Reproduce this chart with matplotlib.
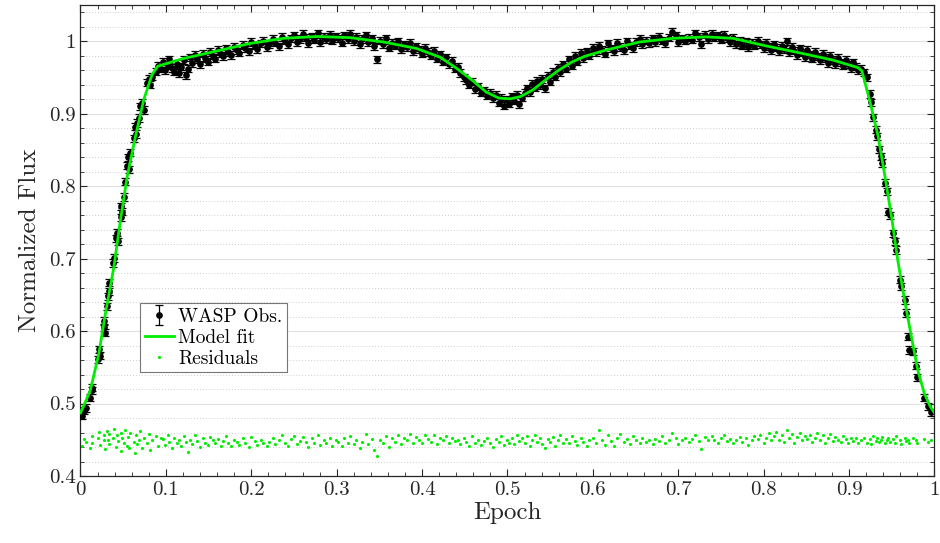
import numpy as np
import matplotlib
matplotlib.use('Agg')
from matplotlib import pyplot as plt
from matplotlib.ticker import MultipleLocator, FuncFormatter

# model fit
model_x = [0.000, 0.005, 0.0117, 0.0214, 0.0292, 0.039, 0.0468, 0.0546, 0.0643, 0.074,
           0.0838, 0.0905, 0.120, 0.160, 0.198, 0.2375, 0.2765, 0.3155, 0.3545, 0.3936,
           0.421, 0.440, 0.460, 0.475, 0.490, 0.503, 0.515, 0.530, 0.545, 0.560,
           0.575, 0.590, 0.616, 0.655, 0.694, 0.733, 0.764, 0.803, 0.842, 0.881,
           0.9105, 0.915, 0.924, 0.934, 0.942, 0.9497, 0.957, 0.965, 0.973, 0.9805,
           0.988, 0.995, 1.000]
model_y = [0.487, 0.500, 0.519, 0.568, 0.624, 0.6875, 0.753, 0.8125, 0.868, 0.919,
           0.954, 0.9655, 0.976, 0.9866, 0.9968, 1.004, 1.0065, 1.005, 0.999, 0.990,
           0.978, 0.963, 0.945, 0.930, 0.9215, 0.9205, 0.9235, 0.933, 0.947, 0.960,
           0.971, 0.979, 0.988, 0.999, 1.004, 1.006, 1.004, 0.9935, 0.984, 0.974,
           0.9636, 0.959, 0.919, 0.869, 0.8137, 0.758, 0.698, 0.643, 0.592, 0.546,
           0.5145, 0.496, 0.487]

# WASP observations, by part of the light curve
ingress_x = [0.002, 0.004, 0.006, 0.011, 0.013, 0.014, 0.020, 0.022, 0.023, 0.027,
             0.028, 0.029, 0.031, 0.032, 0.033, 0.034, 0.038, 0.039, 0.042, 0.043,
             0.044, 0.047, 0.048, 0.049, 0.051, 0.052, 0.055, 0.056, 0.057, 0.058,
             0.063, 0.064, 0.065, 0.066, 0.069, 0.070, 0.072, 0.074, 0.078, 0.080,
             0.082, 0.084, 0.089, 0.091, 0.094]
ingress_y = [0.483, 0.490, 0.494, 0.508, 0.518, 0.522, 0.561, 0.575, 0.566, 0.605,
             0.614, 0.598, 0.634, 0.648, 0.667, 0.655, 0.694, 0.701, 0.728, 0.736,
             0.724, 0.757, 0.772, 0.765, 0.785, 0.806, 0.828, 0.840, 0.823, 0.846,
             0.866, 0.882, 0.872, 0.887, 0.894, 0.910, 0.915, 0.905, 0.943, 0.948,
             0.940, 0.951, 0.958, 0.966, 0.962]
ingress_res = [0.442, 0.451, 0.447, 0.439, 0.455, 0.446, 0.452, 0.461, 0.443, 0.457,
               0.449, 0.437, 0.462, 0.450, 0.458, 0.444, 0.453, 0.465, 0.440, 0.456,
               0.448, 0.459, 0.435, 0.452, 0.446, 0.463, 0.441, 0.454, 0.438, 0.460,
               0.447, 0.432, 0.456, 0.444, 0.450, 0.462, 0.439, 0.453, 0.445, 0.458,
               0.436, 0.449, 0.455, 0.441, 0.452]

top1_x = [0.097, 0.099, 0.102, 0.104, 0.107, 0.110, 0.113, 0.115, 0.118, 0.121,
          0.123, 0.126, 0.128, 0.131, 0.134, 0.137, 0.140, 0.143, 0.146, 0.149,
          0.152, 0.155, 0.158, 0.161, 0.164, 0.167, 0.170, 0.173, 0.176, 0.180,
          0.183, 0.186, 0.190, 0.193, 0.197, 0.200, 0.204, 0.207, 0.211, 0.214,
          0.218, 0.221, 0.225, 0.228, 0.232, 0.236, 0.239, 0.243, 0.246, 0.250,
          0.253, 0.257, 0.260, 0.264, 0.267, 0.271, 0.274, 0.278, 0.281, 0.285,
          0.288, 0.292, 0.295, 0.299, 0.302, 0.306, 0.309, 0.313, 0.316, 0.320,
          0.323, 0.327, 0.330, 0.334, 0.337, 0.341, 0.344, 0.347, 0.351, 0.354,
          0.358, 0.361, 0.365, 0.368, 0.372, 0.375, 0.379, 0.382, 0.386, 0.389,
          0.393, 0.396, 0.400, 0.403, 0.407, 0.410, 0.414, 0.417, 0.421, 0.424,
          0.428, 0.431, 0.435, 0.438]
top1_y = [0.972, 0.960, 0.966, 0.975, 0.963, 0.958, 0.969, 0.956, 0.965, 0.974,
          0.953, 0.962, 0.978, 0.970, 0.981, 0.975, 0.968, 0.983, 0.977, 0.972,
          0.985, 0.980, 0.976, 0.988, 0.983, 0.979, 0.990, 0.985, 0.981, 0.992,
          0.988, 0.984, 0.995, 0.990, 0.986, 0.999, 0.994, 0.989, 0.997, 1.001,
          0.992, 0.996, 1.003, 0.998, 0.993, 1.006, 1.001, 0.996, 1.004, 1.008,
          0.999, 1.003, 1.010, 1.005, 0.997, 1.007, 1.002, 1.011, 0.999, 1.006,
          1.003, 1.009, 1.001, 1.007, 1.004, 0.998, 1.008, 1.003, 1.010, 1.000,
          1.006, 0.996, 1.003, 1.008, 0.999, 1.004, 0.993, 0.975, 1.001, 0.996,
          1.004, 0.991, 0.998, 0.994, 1.000, 0.989, 0.996, 0.992, 0.998, 0.986,
          0.993, 0.989, 0.983, 0.991, 0.985, 0.980, 0.987, 0.976, 0.982, 0.972,
          0.978, 0.968, 0.973, 0.962]
top1_res = [0.451, 0.443, 0.456, 0.447, 0.439, 0.453, 0.445, 0.449, 0.441, 0.455,
            0.447, 0.433, 0.450, 0.444, 0.457, 0.448, 0.440, 0.452, 0.446, 0.443,
            0.454, 0.449, 0.445, 0.451, 0.442, 0.448, 0.455, 0.446, 0.441, 0.450,
            0.447, 0.443, 0.452, 0.445, 0.440, 0.454, 0.448, 0.443, 0.450, 0.446,
            0.441, 0.447, 0.453, 0.444, 0.449, 0.456, 0.446, 0.442, 0.451, 0.455,
            0.444, 0.448, 0.454, 0.447, 0.440, 0.452, 0.446, 0.457, 0.443, 0.449,
            0.445, 0.453, 0.442, 0.450, 0.447, 0.441, 0.452, 0.446, 0.455, 0.444,
            0.450, 0.438, 0.447, 0.458, 0.444, 0.451, 0.436, 0.427, 0.449, 0.445,
            0.455, 0.440, 0.452, 0.447, 0.456, 0.444, 0.453, 0.449, 0.458, 0.446,
            0.454, 0.450, 0.445, 0.456, 0.451, 0.447, 0.457, 0.444, 0.453, 0.449,
            0.455, 0.446, 0.452, 0.448]

dip_x = [0.442, 0.445, 0.449, 0.452, 0.455, 0.459, 0.462, 0.466, 0.469, 0.473,
         0.476, 0.480, 0.483, 0.487, 0.490, 0.493, 0.496, 0.499, 0.502, 0.505,
         0.508, 0.511, 0.514, 0.517, 0.520, 0.523, 0.526, 0.529, 0.532, 0.535,
         0.538, 0.541, 0.544, 0.547, 0.550, 0.553, 0.556, 0.559, 0.562, 0.565,
         0.568, 0.572, 0.575, 0.579, 0.582, 0.586, 0.589, 0.593, 0.596]
dip_y = [0.965, 0.956, 0.950, 0.946, 0.940, 0.944, 0.934, 0.938, 0.929, 0.932,
         0.925, 0.929, 0.921, 0.926, 0.915, 0.922, 0.911, 0.919, 0.914, 0.924,
         0.918, 0.926, 0.913, 0.922, 0.929, 0.935, 0.930, 0.941, 0.936, 0.945,
         0.939, 0.948, 0.935, 0.952, 0.944, 0.958, 0.951, 0.963, 0.957, 0.968,
         0.962, 0.975, 0.966, 0.980, 0.972, 0.984, 0.977, 0.986, 0.980]
dip_res = [0.449, 0.444, 0.452, 0.447, 0.441, 0.455, 0.446, 0.450, 0.443, 0.448,
           0.453, 0.445, 0.440, 0.451, 0.447, 0.455, 0.443, 0.449, 0.446, 0.452,
           0.444, 0.457, 0.448, 0.453, 0.446, 0.455, 0.442, 0.450, 0.457, 0.447,
           0.452, 0.444, 0.438, 0.451, 0.447, 0.454, 0.441, 0.449, 0.456, 0.445,
           0.451, 0.446, 0.455, 0.448, 0.443, 0.452, 0.447, 0.441, 0.450]

top2_x = [0.600, 0.604, 0.607, 0.611, 0.614, 0.618, 0.621, 0.625, 0.628, 0.632,
          0.636, 0.640, 0.643, 0.647, 0.651, 0.655, 0.658, 0.662, 0.666, 0.670,
          0.673, 0.677, 0.681, 0.685, 0.689, 0.693, 0.697, 0.700, 0.704, 0.708,
          0.712, 0.716, 0.720, 0.724, 0.727, 0.731, 0.735, 0.739, 0.742, 0.746,
          0.750, 0.753, 0.757, 0.761, 0.764, 0.768, 0.772, 0.775, 0.779, 0.782,
          0.786, 0.789, 0.793, 0.796, 0.800, 0.803, 0.806, 0.809, 0.812, 0.815,
          0.818, 0.821, 0.824, 0.827, 0.830, 0.833, 0.836, 0.839, 0.842, 0.845,
          0.848, 0.851, 0.854, 0.857, 0.860, 0.863, 0.866, 0.869, 0.872, 0.875,
          0.878, 0.881, 0.884, 0.887, 0.890, 0.893, 0.896, 0.899, 0.902, 0.905,
          0.908, 0.911]
top2_y = [0.991, 0.985, 0.994, 0.988, 0.983, 0.997, 0.990, 0.986, 0.998, 0.992,
          0.988, 1.000, 0.994, 0.990, 0.999, 1.003, 0.996, 1.001, 0.997, 1.004,
          0.999, 1.006, 1.001, 0.997, 1.005, 1.013, 1.008, 0.999, 1.004, 1.001,
          1.005, 1.002, 1.011, 1.006, 0.996, 1.009, 1.003, 1.010, 1.005, 1.008,
          1.002, 1.009, 1.004, 0.999, 1.005, 0.996, 1.001, 0.994, 1.000, 0.992,
          0.998, 0.994, 1.001, 0.996, 0.990, 0.998, 0.993, 0.988, 0.996, 0.991,
          0.986, 0.994, 0.989, 1.000, 0.985, 0.992, 0.987, 0.981, 0.990, 0.984,
          0.978, 0.988, 0.982, 0.976, 0.985, 0.979, 0.974, 0.983, 0.977, 0.970,
          0.980, 0.974, 0.968, 0.977, 0.971, 0.966, 0.974, 0.968, 0.963, 0.971,
          0.965, 0.960]
top2_res = [0.453, 0.446, 0.464, 0.450, 0.443, 0.456, 0.448, 0.441, 0.452, 0.458,
            0.447, 0.451, 0.444, 0.455, 0.449, 0.446, 0.453, 0.447, 0.450, 0.444,
            0.451, 0.448, 0.455, 0.446, 0.450, 0.459, 0.452, 0.444, 0.449, 0.453,
            0.447, 0.451, 0.456, 0.448, 0.437, 0.454, 0.449, 0.455, 0.450, 0.446,
            0.452, 0.457, 0.448, 0.451, 0.445, 0.450, 0.454, 0.447, 0.452, 0.443,
            0.449, 0.455, 0.451, 0.457, 0.446, 0.453, 0.459, 0.449, 0.455, 0.461,
            0.450, 0.456, 0.447, 0.463, 0.452, 0.458, 0.445, 0.454, 0.460, 0.449,
            0.455, 0.451, 0.457, 0.447, 0.453, 0.459, 0.450, 0.456, 0.446, 0.452,
            0.458, 0.448, 0.454, 0.450, 0.447, 0.455, 0.451, 0.445, 0.452, 0.448,
            0.453, 0.446]

egress_x = [0.914, 0.917, 0.921, 0.924, 0.926, 0.928, 0.9315, 0.933, 0.935, 0.937,
            0.939, 0.9425, 0.9445, 0.946, 0.948, 0.952, 0.9535, 0.9555, 0.9595, 0.961,
            0.965, 0.9665, 0.9685, 0.9705, 0.9745, 0.978, 0.980, 0.988, 0.9925, 0.996]
egress_y = [0.962, 0.957, 0.950, 0.927, 0.9155, 0.895, 0.878, 0.869, 0.851, 0.841,
            0.832, 0.805, 0.793, 0.765, 0.760, 0.735, 0.724, 0.712, 0.671, 0.662,
            0.643, 0.625, 0.592, 0.574, 0.572, 0.552, 0.536, 0.508, 0.496, 0.488]
egress_res = [0.449, 0.453, 0.446, 0.451, 0.444, 0.455, 0.448, 0.452, 0.447, 0.450,
              0.454, 0.445, 0.449, 0.453, 0.447, 0.451, 0.446, 0.455, 0.449, 0.444,
              0.452, 0.448, 0.450, 0.446, 0.453, 0.449, 0.445, 0.451, 0.447, 0.450]

obs_err = 0.005

obs_x = np.concatenate([ingress_x, top1_x, dip_x, top2_x, egress_x])
obs_y = np.concatenate([ingress_y, top1_y, dip_y, top2_y, egress_y])
res_y = np.concatenate([ingress_res, top1_res, dip_res, top2_res, egress_res])

plt.rcParams['font.family'] = ['cmr10', 'DejaVu Serif']
plt.rcParams['axes.formatter.use_mathtext'] = True
plt.rcParams['mathtext.fontset'] = 'cm'

fig = plt.figure(figsize=(9.4, 5.43), dpi=100)
ax = fig.add_axes([0.0856, 0.1234, 0.9085, 0.8674])

h_obs = ax.errorbar(obs_x, obs_y, yerr=obs_err, fmt='o', color='black', ms=3.8,
                    elinewidth=0.9, capsize=3, capthick=0.9, label='WASP Obs.', zorder=3)
h_fit, = ax.plot(model_x, model_y, color='#00ee00', lw=2.0, label='Model fit', zorder=4)
h_res, = ax.plot(obs_x, res_y, '.', color='#00ee00', ms=2.5, label='Residuals', zorder=2)

ax.set_xlim(0, 1)
ax.set_ylim(0.4, 1.05)
ax.xaxis.set_major_locator(MultipleLocator(0.1))
ax.xaxis.set_minor_locator(MultipleLocator(0.02))
ax.yaxis.set_major_locator(MultipleLocator(0.1))
ax.yaxis.set_minor_locator(MultipleLocator(0.02))
fmt = FuncFormatter(lambda v, p: f'{v:g}')
ax.xaxis.set_major_formatter(fmt)
ax.yaxis.set_major_formatter(fmt)

ax.tick_params(which='both', direction='in', top=True, right=True, colors='#262626',
               labelsize=15)
ax.tick_params(which='major', length=5, width=0.8)
ax.tick_params(which='minor', length=3, width=0.6)
for s in ax.spines.values():
    s.set_color('#262626')
    s.set_linewidth(0.9)

# horizontal grid only
ax.grid(True, axis='y', which='major', color='#e0e0e0', lw=0.8, ls='-')
ax.grid(True, axis='y', which='minor', color='#bdbdbd', lw=0.6, ls=(0, (1, 2.5)))
ax.set_axisbelow(True)

ax.set_xlabel('Epoch', fontsize=18, color='#262626', labelpad=2)
ax.set_ylabel('Normalized Flux', fontsize=18, color='#262626', labelpad=6)

leg = ax.legend([h_obs, h_fit, h_res], ['WASP Obs.', 'Model fit', 'Residuals'],
                loc='upper left', bbox_to_anchor=(0.0697, 0.367), fontsize=14,
                fancybox=False, framealpha=1, edgecolor='#777777', borderpad=0.25,
                labelspacing=0.15, handlelength=1.5, handletextpad=0.2,
                borderaxespad=0)
leg.get_frame().set_linewidth(0.8)

plt.savefig('out.png', dpi=100)
